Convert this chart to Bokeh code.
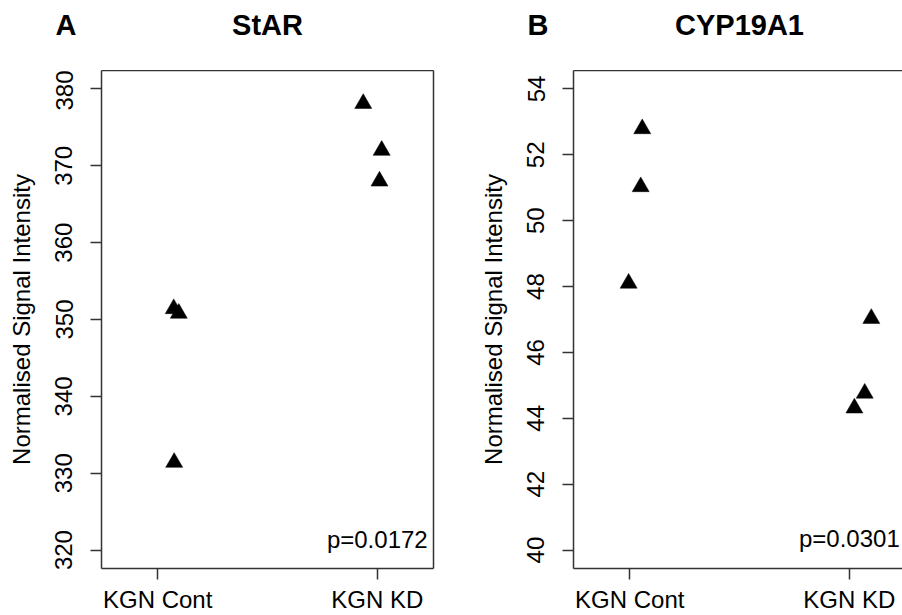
from bokeh.plotting import figure
from bokeh.layouts import row, column
from bokeh.models import FixedTicker, Label, LinearAxis, Range1d
from bokeh.core.properties import value
from bokeh.embed import file_html
from bokeh.resources import INLINE

# ---- data ----
categories = ["KGN Cont", "KGN KD"]
star_x = [1.073, 1.096, 1.075, 1.936, 2.020, 2.010]
star_y = [351.4, 350.8, 331.4, 378.1, 372.0, 368.0]
cyp_x = [1.057, 1.050, 0.995, 2.100, 2.070, 2.023]
cyp_y = [52.79, 51.03, 48.10, 47.03, 44.76, 44.31]
star_ticks = [320, 330, 340, 350, 360, 370, 380]
cyp_ticks = [40, 42, 44, 46, 48, 50, 52, 54]
pvals = ["p=0.0172", "p=0.0301"]
pval_y = [321.4, 40.36]
titles = ["StAR", "CYP19A1"]
letters = ["A", "B"]

FONT = "Liberation Sans"
INK = "black"
LINE = "#333333"

W, H = 902, 615
HEAD_H = 70          # space above the plot frames
PANEL_W = 451
FRAME_W = 332        # full frame width of a panel
BORDER_L = [101, 122]


def style_axis(ax):
    ax.axis_line_color = LINE
    ax.axis_line_width = 1.5
    ax.major_tick_line_color = LINE
    ax.major_tick_line_width = 1.5
    ax.major_tick_out = 11
    ax.major_tick_in = 0
    ax.minor_tick_line_color = None
    ax.major_label_text_font = FONT
    ax.major_label_text_font_size = "24px"
    ax.major_label_text_color = INK


def bare_axis():
    return LinearAxis(ticker=FixedTicker(ticks=[]), major_label_text_font_size="0px",
                      major_tick_out=0, major_tick_in=0, minor_tick_out=0, minor_tick_in=0,
                      major_label_standoff=0, axis_line_color=LINE, axis_line_width=1.5)


def make_panel(xs, ys, yticks, pval, py, border_left, border_right, xend, right_line):
    ylo, yhi = min(yticks), max(yticks)
    pad = 0.04 * (yhi - ylo)
    x0, x1 = 0.8, 2.2
    xpad = 0.04 * (x1 - x0)
    p = figure(width=PANEL_W, height=H - HEAD_H, output_backend="svg", toolbar_location=None,
               x_range=Range1d(x0 - xpad, xend), y_range=Range1d(ylo - pad, yhi + pad),
               min_border_left=border_left, min_border_right=border_right,
               min_border_top=0, min_border_bottom=47)
    p.background_fill_color = "white"
    p.border_fill_color = "white"
    p.grid.visible = False
    p.outline_line_color = None

    xax = p.below[0]
    yax = p.left[0]
    style_axis(xax)
    style_axis(yax)

    xax.ticker = FixedTicker(ticks=[1, 2])
    xax.major_label_overrides = {1: categories[0], 2: categories[1]}
    xax.major_label_standoff = 6

    yax.ticker = FixedTicker(ticks=yticks)
    yax.major_label_orientation = "vertical"
    yax.major_label_standoff = 18
    yax.axis_label = "Normalised Signal Intensity"
    yax.axis_label_text_font = FONT
    yax.axis_label_text_font_size = "24px"
    yax.axis_label_text_font_style = "normal"
    yax.axis_label_text_color = INK
    yax.axis_label_standoff = 18

    p.add_layout(bare_axis(), "above")
    if right_line:
        p.add_layout(bare_axis(), "right")

    p.scatter(xs, ys, marker="triangle", size=17, fill_color=INK, line_color=INK, line_width=0.5)

    p.add_layout(Label(x=2, y=py, text=pval, text_align="center", text_baseline="alphabetic",
                       text_font=FONT, text_font_size="24px", text_color=INK))
    return p


# header strip with panel letters and gene names (pixel coordinates, y from top)
head = figure(width=W, height=HEAD_H, output_backend="svg", toolbar_location=None,
              x_range=Range1d(0, W), y_range=Range1d(HEAD_H, 0),
              min_border=0, x_axis_location=None, y_axis_location=None)
head.outline_line_color = None
head.grid.visible = False
head.background_fill_color = "white"
head.border_fill_color = "white"
frame_left = [BORDER_L[0], PANEL_W + BORDER_L[1]]
letter_x = [fl - 46 for fl in frame_left]
title_x = [fl + FRAME_W / 2 for fl in frame_left]
baseline = 24
head.text(x=letter_x, y=[baseline] * 2, text=letters, text_font=value(FONT),
          text_font_size="29px", text_font_style="bold", text_color=INK,
          text_align="left", text_baseline="alphabetic")
head.text(x=title_x, y=[baseline] * 2, text=titles, text_font=value(FONT),
          text_font_size="29px", text_font_style="bold", text_color=INK,
          text_align="center", text_baseline="alphabetic")

p1 = make_panel(star_x, star_y, star_ticks, pvals[0], pval_y[0],
                BORDER_L[0], PANEL_W - BORDER_L[0] - FRAME_W, 2.256, True)
p2 = make_panel(cyp_x, cyp_y, cyp_ticks, pvals[1], pval_y[1],
                BORDER_L[1], 0, 2.242, False)

layout = column(head, row(p1, p2, spacing=0), spacing=0)
open("out.html", "w").write(file_html(layout, INLINE))
